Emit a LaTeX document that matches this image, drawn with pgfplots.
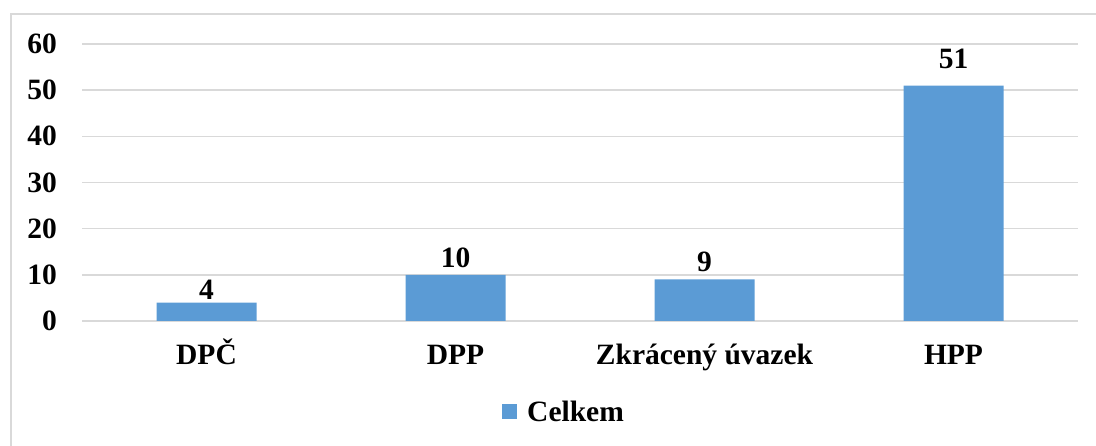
\documentclass[border=0pt]{standalone}
\usepackage{fontspec}
\setmainfont{Liberation Serif}
\usepackage{pgfplots}
\usepackage{pgfplotstable}
\pgfplotsset{compat=1.18}
\definecolor{barblue}{HTML}{5B9BD5}
\definecolor{gridgray}{HTML}{D9D9D9}
\pgfplotstableread{
x y off
0 4 3
1 10 7
2 9 7
3 51 17
}\datatable
\begin{document}
\begin{tikzpicture}[x=1pt,y=1pt]
\useasboundingbox (0,0) rectangle (1096,446);
\draw[gridgray, line width=1.5pt] (11,0) -- (11,432) -- (1096,432);
\begin{axis}[
  at={(82pt,125pt)}, anchor=south west,
  scale only axis, width=996pt, height=277pt,
  xmin=-0.5, xmax=3.5, ymin=0, ymax=60,
  ytick={0,10,...,60},
  xtick={0,1,2,3},
  xticklabels={DPČ,DPP,Zkrácený úvazek,HPP},
  axis line style={draw=none},
  major tick length=0pt,
  ymajorgrids, grid style={gridgray, line width=1.5pt},
  /pgf/number format/assume math mode=true,
  tick label style={font=\fontsize{29.5}{31}\selectfont\bfseries},
  yticklabel style={anchor=east, inner sep=0pt, xshift=-25pt},
  xticklabel style={anchor=base, inner sep=0pt, yshift=-44pt},
  legend style={at={(0.484,-0.3285)}, anchor=center, draw=none, fill=none,
    font=\fontsize{29.5}{31}\selectfont\bfseries, inner sep=0pt,
    /tikz/every odd column/.style={column sep=0pt},
    /tikz/every even column/.style={column sep=0pt}},
  legend image code/.code={\fill[barblue] (0pt,-7.5pt) rectangle (15pt,7.5pt);},
  legend cell align=left,
]
\addplot[ybar, bar width=100pt, fill=barblue, draw=none,
  nodes near coords,
  visualization depends on={\thisrow{off}\as\laboff},
  every node near coord/.append style={font=\fontsize{29.5}{31}\selectfont\bfseries, anchor=south, inner sep=0pt, yshift=\laboff pt},
] table[x=x,y=y] {\datatable};
\addlegendentry{\hspace{8pt}Celkem}
\end{axis}
\end{tikzpicture}
\end{document}
